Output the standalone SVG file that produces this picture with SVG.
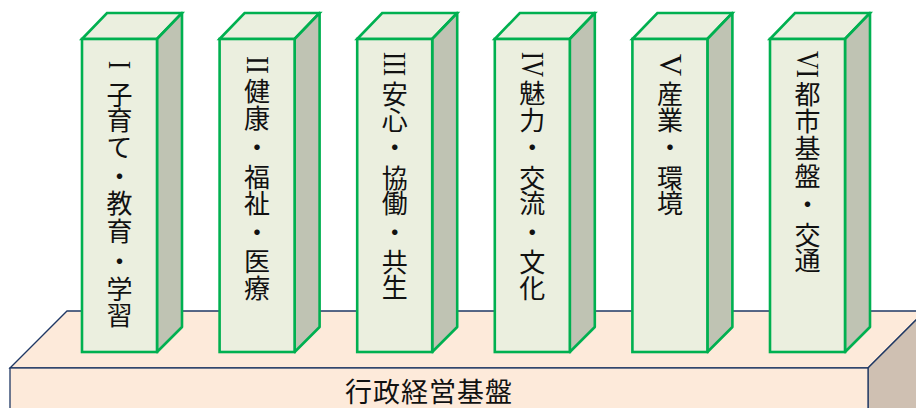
<svg xmlns="http://www.w3.org/2000/svg" width="916" height="408" viewBox="0 0 916 408">
<style>
.bf{fill:#FDEADA;stroke:#1F3864;stroke-width:1.3;stroke-linejoin:miter}
.bs{fill:#CFC0B2;stroke:#1F3864;stroke-width:1.3}
.pf{fill:#EBEFDF;stroke:#00B050;stroke-width:2.6}
.ps{fill:#BFC3B3;stroke:#00B050;stroke-width:2.6;stroke-linejoin:round}
.vt{font-family:"Noto Sans CJK JP","Noto Sans CJK SC",sans-serif;font-size:26px;fill:#111;writing-mode:vertical-rl;text-orientation:mixed}
.rn{font-family:"Liberation Serif",serif;font-size:31px;fill:#111;text-anchor:middle}
.bt{font-family:"Noto Sans CJK JP","Noto Sans CJK SC",sans-serif;font-size:27px;fill:#111;letter-spacing:1px}
</style>
<g id="base">
<polygon class="bf" points="10,368 67,311 925,311 868,368"/>
<polygon class="bs" points="868,368 925,311 925,420 868,420"/>
<rect class="bf" x="10" y="368" width="858" height="50"/>
<text class="bt" x="345" y="402">行政経営基盤</text>
</g>
<g id="pillar1">
<polygon class="pf" points="82,39 107,13 182,13 157,39"/>
<polygon class="ps" points="157,39 182,13 182,327 157,352"/>
<rect class="pf" x="82" y="39" width="75" height="313"/>
<text class="rn" transform="translate(119.5,65) rotate(90)" x="0" y="10.3" textLength="8" lengthAdjust="spacingAndGlyphs">I</text>
<text class="vt" x="119.5" y="82 107 134 163 190 218 248 276 302">子育て・教育・学習</text>
</g>
<g id="pillar2">
<polygon class="pf" points="219.6,39 244.6,13 319.6,13 294.6,39"/>
<polygon class="ps" points="294.6,39 319.6,13 319.6,327 294.6,352"/>
<rect class="pf" x="219.6" y="39" width="75" height="313"/>
<text class="rn" transform="translate(257.1,65) rotate(90)" x="0" y="10.3" textLength="18" lengthAdjust="spacingAndGlyphs">II</text>
<text class="vt" x="257.1" y="78 105 134 164 190 219 248 275">健康・福祉・医療</text>
</g>
<g id="pillar3">
<polygon class="pf" points="357.2,39 382.2,13 457.2,13 432.2,39"/>
<polygon class="ps" points="432.2,39 457.2,13 457.2,327 432.2,352"/>
<rect class="pf" x="357.2" y="39" width="75" height="313"/>
<text class="rn" transform="translate(394.7,64) rotate(90)" x="0" y="10.3" textLength="24" lengthAdjust="spacingAndGlyphs">III</text>
<text class="vt" x="394.7" y="81 107 134 165 190 219 249 274">安心・協働・共生</text>
</g>
<g id="pillar4">
<polygon class="pf" points="494.8,39 519.8,13 594.8,13 569.8,39"/>
<polygon class="ps" points="569.8,39 594.8,13 594.8,327 569.8,352"/>
<rect class="pf" x="494.8" y="39" width="75" height="313"/>
<text class="rn" transform="translate(532.3,64.5) rotate(90)" x="0" y="10.3" textLength="25" lengthAdjust="spacingAndGlyphs">IV</text>
<text class="vt" x="532.3" y="80 107 134 165 190 219 249 275">魅力・交流・文化</text>
</g>
<g id="pillar5">
<polygon class="pf" points="632.4,39 657.4,13 732.4,13 707.4,39"/>
<polygon class="ps" points="707.4,39 732.4,13 732.4,327 707.4,352"/>
<rect class="pf" x="632.4" y="39" width="75" height="313"/>
<text class="rn" transform="translate(669.9,65) rotate(90)" x="0" y="10.3" textLength="22" lengthAdjust="spacingAndGlyphs">V</text>
<text class="vt" x="669.9" y="81 107 134 165 190">産業・環境</text>
</g>
<g id="pillar6">
<polygon class="pf" points="770,39 795,13 870,13 845,39"/>
<polygon class="ps" points="845,39 870,13 870,327 845,352"/>
<rect class="pf" x="770" y="39" width="75" height="313"/>
<text class="rn" transform="translate(807.5,64.5) rotate(90)" x="0" y="10.3" textLength="27" lengthAdjust="spacingAndGlyphs">VI</text>
<text class="vt" x="807.5" y="81 108 135 163 191 222 247">都市基盤・交通</text>
</g>
<g id="connectors"/>
</svg>
